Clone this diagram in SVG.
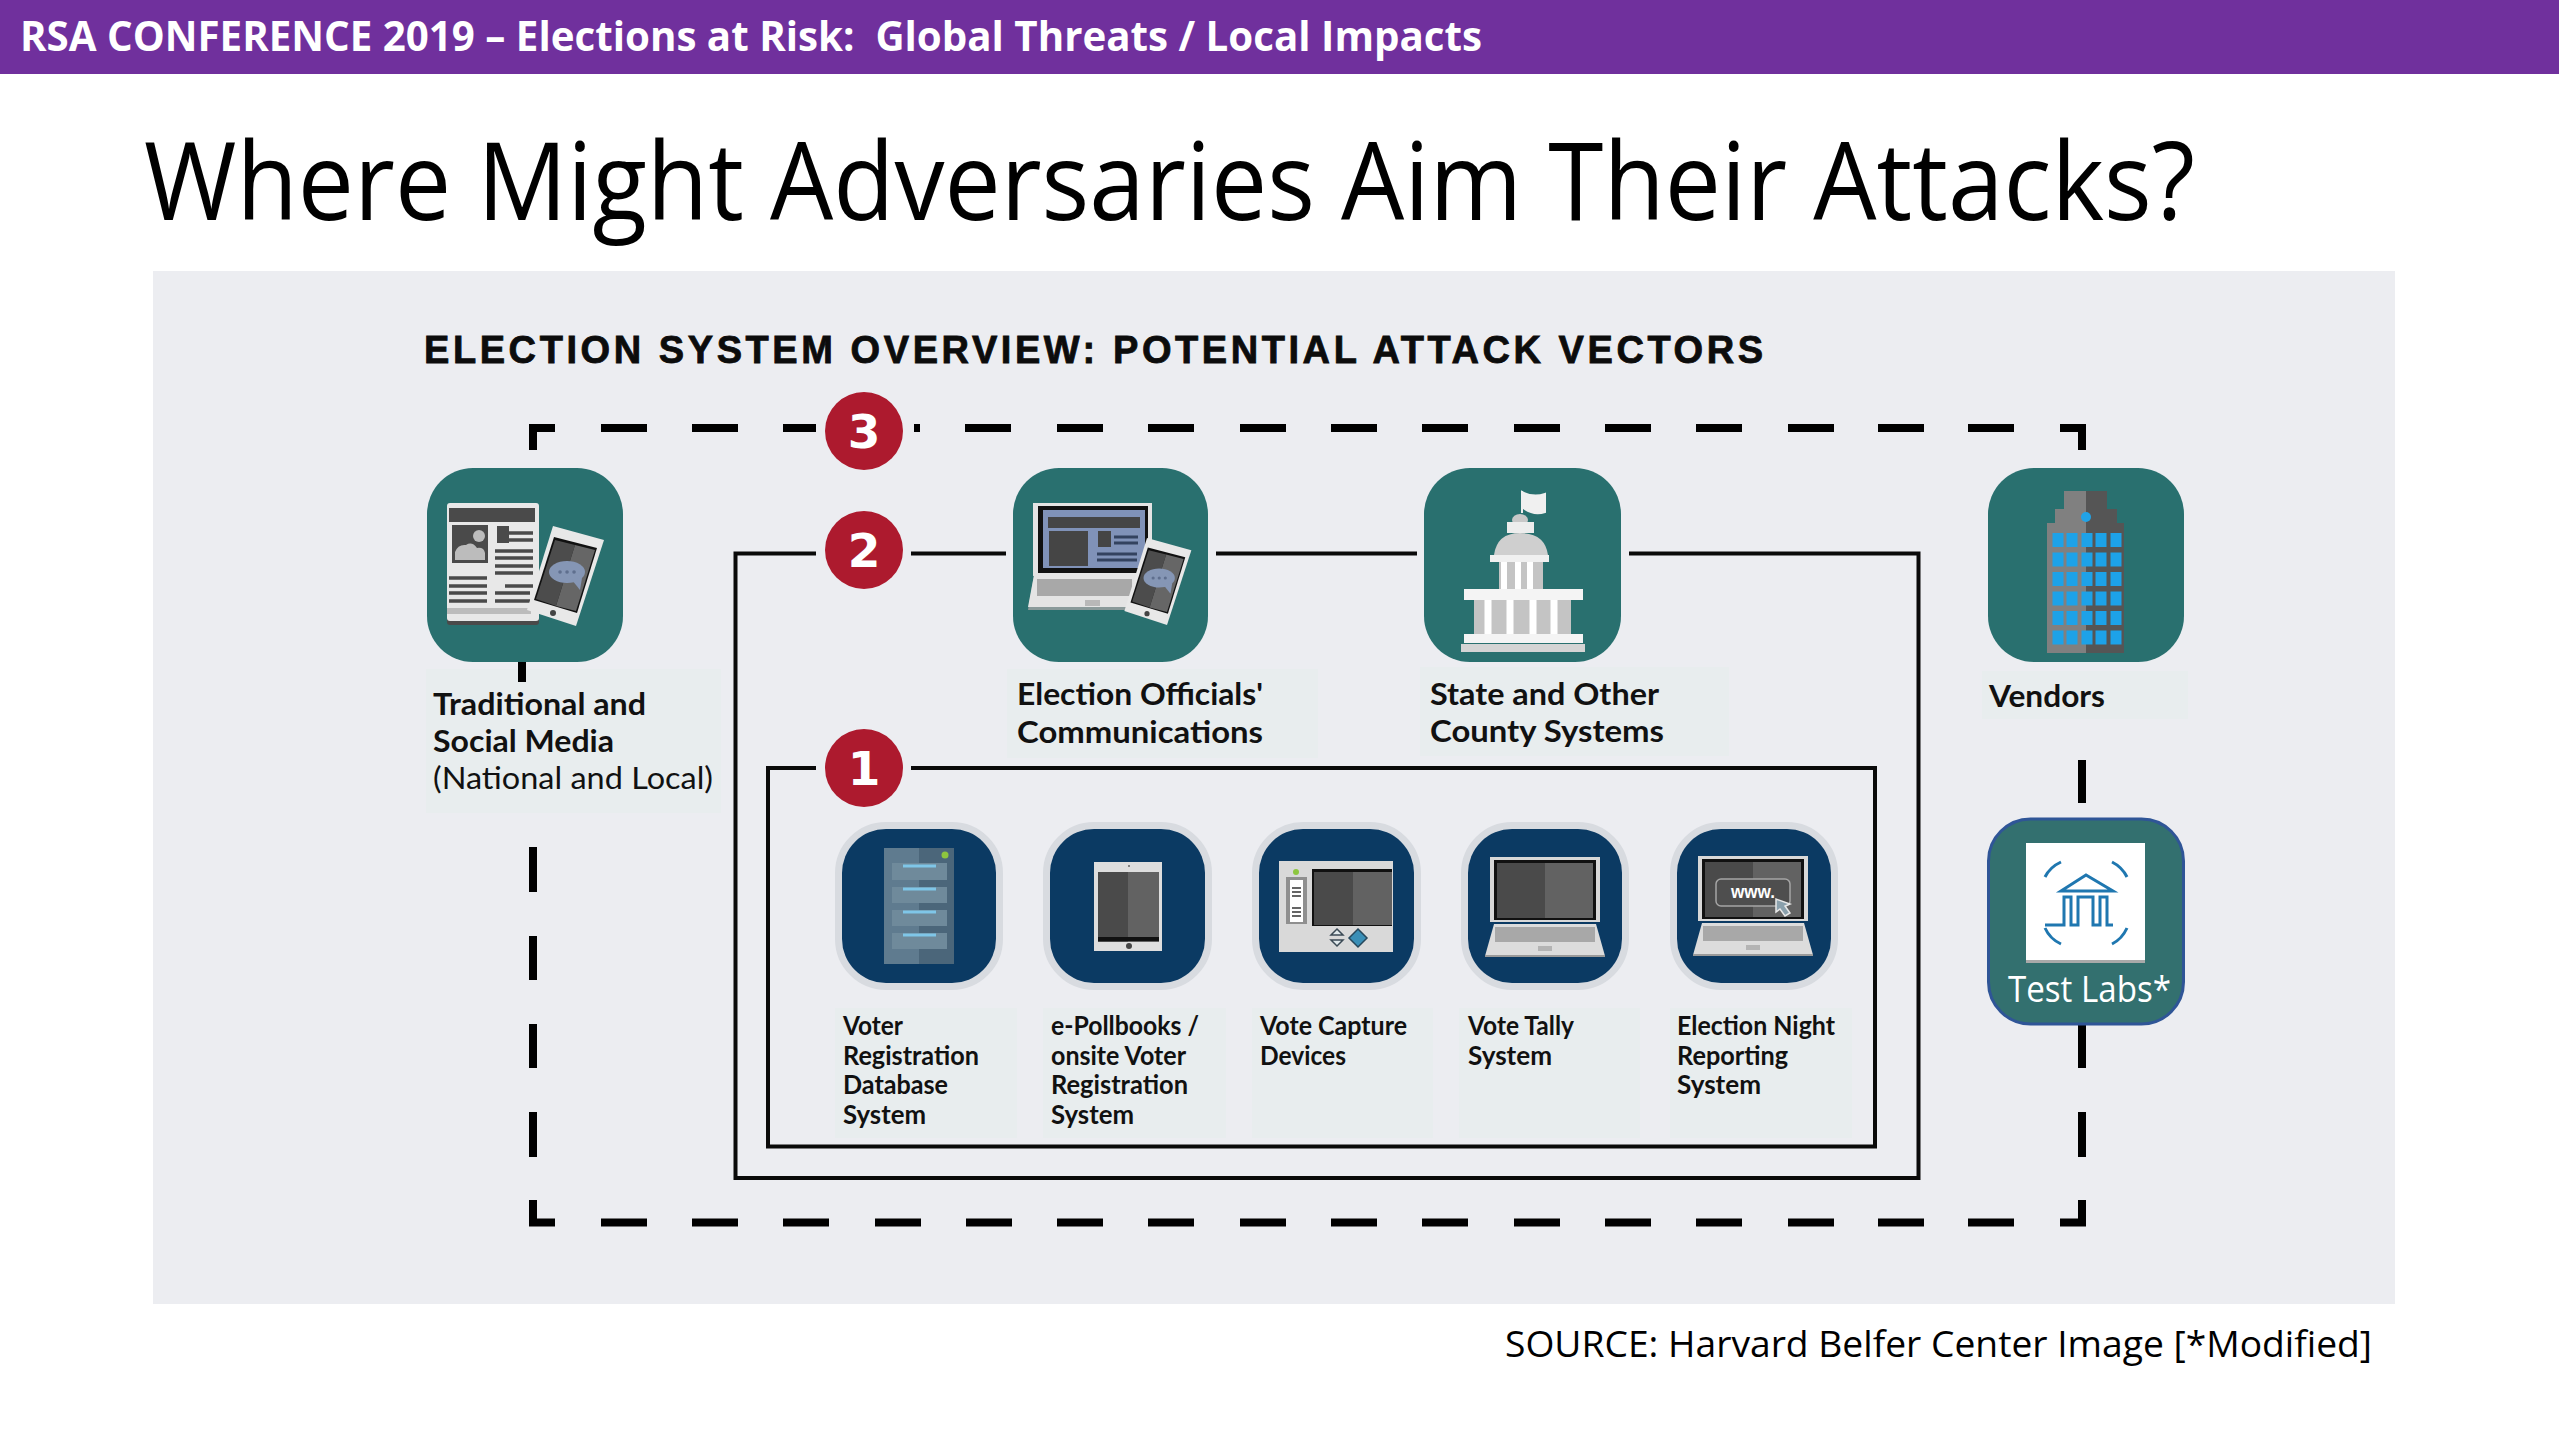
<svg xmlns="http://www.w3.org/2000/svg" width="2559" height="1439" viewBox="0 0 2559 1439">
<style>
text{white-space:pre}
.hdr{font:700 42px "Open Sans",sans-serif;fill:#fff}
.ttl{font:400 108px "Open Sans",sans-serif;fill:#000}
.src{font:400 37px "Open Sans",sans-serif;fill:#000}
.sub{font:800 38px "Liberation Sans",sans-serif;fill:#0c0c0c;stroke:#0c0c0c;stroke-width:.8}
.lg{font:700 31px Lato,sans-serif;fill:#111}
.lr{font:400 31px Lato,sans-serif;fill:#111}
.sm{font:700 26px Lato,sans-serif;fill:#111}
.num{font:700 47px "DejaVu Sans",sans-serif;fill:#fff;text-anchor:middle}
.lbl{fill:#e8edee}
.teal{fill:#29706f}
.navy{fill:#0b3a63;stroke:#d8dbe0;stroke-width:14;paint-order:stroke}
.badge{fill:#ad1a2e}
.solid{fill:none;stroke:#0a0a0a;stroke-width:4}
.dash{fill:none;stroke:#000;stroke-width:8}
.ink{stroke:#4a4a4a;stroke-width:3.5;fill:none}
</style>
<defs>
<g id="phone">
<polygon points="553,526 604,540 576,626 527,610" fill="#e8e8e8"/>
<polygon points="554,537 597,548 577,613 534,600" fill="#111"/>
<polygon points="555,540 575,545 556,606 536,599" fill="#4c4c4c"/>
<polygon points="575,545 595,550 576,611 556,606" fill="#666"/>
<ellipse cx="567" cy="572" rx="18" ry="11" fill="#8596b5"/>
<polygon points="572,580 582,578 580,590" fill="#8596b5"/>
<path d="M560 572h.1M567 572h.1M574 572h.1" stroke="#5f6f8e" stroke-width="3.500" stroke-linecap="round"/>
<circle cx="553" cy="613" r="3" fill="#444"/>
</g>
<g id="lap">
<rect x="-55" y="-33" width="110" height="65" fill="#d8d8d8"/>
<rect x="-51" y="-30" width="102" height="60" fill="#111"/>
<rect x="-48" y="-27" width="48" height="55" fill="#4a4a4a"/>
<rect x="0" y="-27" width="48" height="55" fill="#626262"/>
<polygon points="-51,34 51,34 60,66 -60,66" fill="#dcdcdc"/>
<rect x="-50" y="37" width="100" height="15" fill="#a8a8a8"/>
<rect x="-7" y="56" width="14" height="5" fill="#b4b4b4"/>
<rect x="-60" y="65" width="120" height="2" fill="#9a9a9a"/>
</g>
</defs>
<rect width="2559" height="1439" fill="#fff"/>
<rect width="2559" height="74" fill="#70309d"/>
<text class="hdr" x="20" y="51" textLength="1462" lengthAdjust="spacingAndGlyphs">RSA CONFERENCE 2019 – Elections at Risk:  Global Threats / Local Impacts</text>
<text class="ttl" x="144" y="220" textLength="2051" lengthAdjust="spacingAndGlyphs">Where Might Adversaries Aim Their Attacks?</text>
<rect x="153" y="271" width="2242" height="1033" fill="#ecedf1"/>
<text class="sub" x="424" y="363" textLength="1339" lengthAdjust="spacing">ELECTION SYSTEM OVERVIEW: POTENTIAL ATTACK VECTORS</text>
<text class="src" x="1505" y="1357" textLength="867" lengthAdjust="spacingAndGlyphs">SOURCE: Harvard Belfer Center Image [*Modified]</text>

<g id="media-label-panel"><rect class="lbl" x="426" y="669" width="295" height="144"/></g>

<g id="connectors">
<path class="dash" d="M533 450V428H555M601 428h46M692 428h46M783 428h33M914 428h6M965 428h46M1057 428h46M1148 428h46M1240 428h46M1331 428h46M1422 428h46M1514 428h46M1605 428h46M1696 428h46M1788 428h46M1878 428h46M1968 428h46M2060 428H2082V450"/>
<path class="dash" d="M522 662V682M533 847V892M533 936V980M533 1024V1068M533 1112V1157M533 1200V1222.500H555M601 1222.500h46M692 1222.500h46M783 1222.500h46M875 1222.500h46M966 1222.500h46M1057 1222.500h46M1148 1222.500h46M1240 1222.500h46M1331 1222.500h46M1422 1222.500h46M1514 1222.500h46M1605 1222.500h46M1696 1222.500h46M1788 1222.500h46M1878 1222.500h46M1968 1222.500h46M2060 1222.500H2082V1200M2082 1157V1112M2082 1068V1025M2082 803V760"/>
<path class="solid" d="M816 553.500H735.500V1178H1918.500V553.500H1629M1417 553.500H1216M1006 553.500H911"/>
<path class="solid" d="M816 768H768V1146.500H1875V768H911"/>
</g>

<g id="badge-3"><circle class="badge" cx="864" cy="431" r="39"/><text class="num" x="864" y="448">3</text></g>
<g id="badge-2"><circle class="badge" cx="864" cy="550" r="39"/><text class="num" x="864" y="567">2</text></g>
<g id="badge-1"><circle class="badge" cx="864" cy="768" r="39"/><text class="num" x="864" y="785">1</text></g>

<g id="media">
<rect class="teal" x="427" y="468" width="196" height="194" rx="46"/>
<rect x="447" y="505" width="92" height="120" rx="3" fill="#4a4a4a"/>
<rect x="447" y="503" width="92" height="118" rx="3" fill="#e8e8e8"/>
<rect x="449" y="508" width="86" height="14" fill="#4a4a4a"/>
<rect x="452" y="525" width="36" height="38" fill="#4a4a4a"/>
<circle cx="479" cy="536" r="6" fill="#bcbcbc"/>
<path d="M455 560V552Q458 544 466 545Q472 541 477 548Q484 547 485 553V560Z" fill="#bcbcbc"/>
<rect x="497" y="526" width="12" height="17" fill="#4a4a4a"/>
<path class="ink" d="M509 533H533M509 540H533M495 551H533M495 558H533M495 566H533M495 573H533M449 578H487M449 586H487M449 593H487M449 601H487M505 586H533M495 593H530M495 601H530"/>
<rect x="447" y="608" width="84" height="6" fill="#bcbcbc"/>
<use href="#phone"/>
<text class="lg" x="433" y="715" textLength="213" lengthAdjust="spacingAndGlyphs">Traditional and</text>
<text class="lg" x="433" y="752" textLength="181" lengthAdjust="spacingAndGlyphs">Social Media</text>
<text class="lr" x="433" y="789" textLength="280" lengthAdjust="spacingAndGlyphs">(National and Local)</text>
</g>

<g id="officials">
<rect class="lbl" x="1007" y="669" width="311" height="89"/>
<rect class="teal" x="1013" y="468" width="195" height="194" rx="46"/>
<rect x="1033" y="503" width="119" height="73" fill="#e4e4e4"/>
<rect x="1038" y="506" width="110" height="67" fill="#111"/>
<rect x="1043" y="510" width="102" height="58" fill="#8092b8"/>
<rect x="1048" y="517" width="92" height="11" fill="#454545"/>
<rect x="1049" y="531" width="39" height="35" fill="#454545"/>
<rect x="1098" y="531" width="13" height="16" fill="#454545"/>
<path d="M1114 537H1138M1114 543H1138M1097 554H1137M1097 560H1137" stroke="#33425f" stroke-width="3"/>
<polygon points="1034,575 1138,575 1145,610 1028,610" fill="#8a9a9a"/>
<polygon points="1034,575 1138,575 1145,607 1028,607" fill="#e4e4e4"/>
<rect x="1037" y="579" width="95" height="17" fill="#a8a8a8"/>
<rect x="1085" y="600" width="15" height="6" fill="#b8b8b8"/>
<use href="#phone" transform="translate(1147 538) scale(.87) translate(-553 -526)"/>
<text class="lg" x="1017" y="705" textLength="246" lengthAdjust="spacingAndGlyphs">Election Officials'</text>
<text class="lg" x="1017" y="743" textLength="246" lengthAdjust="spacingAndGlyphs">Communications</text>
</g>

<g id="state">
<rect class="lbl" x="1420" y="667" width="309" height="89"/>
<rect class="teal" x="1424" y="468" width="197" height="194" rx="46"/>
<path d="M1522 491V513M1522 492Q1533 498 1545 494V512Q1533 516 1522 507Z" fill="#f0f0f0" stroke="#f0f0f0" stroke-width="2"/>
<ellipse cx="1520" cy="520" rx="8" ry="6" fill="#c8c8c8"/>
<rect x="1507" y="522" width="27" height="11" fill="#ededed"/>
<path d="M1494 555Q1497 533 1520 533Q1545 533 1548 555Z" fill="#cfcfcf"/>
<rect x="1490" y="555" width="59" height="7" fill="#f0f0f0"/>
<rect x="1499" y="562" width="44" height="27" fill="#c4c4c4"/>
<path d="M1504 562v27M1518 562v27M1530 562v27" stroke="#fff" stroke-width="6"/>
<rect x="1464" y="589" width="119" height="11" fill="#f4f4f4"/>
<rect x="1474" y="600" width="97" height="34" fill="#c4c4c4"/>
<path d="M1488 600v34M1510 600v34M1533 600v34M1554 600v34" stroke="#fff" stroke-width="7"/>
<rect x="1464" y="634" width="119" height="9" fill="#f4f4f4"/>
<rect x="1461" y="644" width="124" height="8" fill="#d4d4d4"/>
<text class="lg" x="1430" y="705" textLength="229" lengthAdjust="spacingAndGlyphs">State and Other</text>
<text class="lg" x="1430" y="742" textLength="234" lengthAdjust="spacingAndGlyphs">County Systems</text>
</g>

<g id="vendors">
<rect class="lbl" x="1982" y="671" width="206" height="48"/>
<rect class="teal" x="1988" y="468" width="196" height="194" rx="46"/>
<polygon points="2064,491 2086,491 2086,653 2047,653 2047,523 2055,523 2055,509 2064,509" fill="#808080"/>
<polygon points="2086,491 2107,491 2107,509 2117,509 2117,523 2124,523 2124,653 2086,653" fill="#555"/>
<circle cx="2086" cy="517" r="5" fill="#22a3e6"/>
<path d="M2058 533v113M2072 533v113M2087 533v113M2101 533v113M2116 533v113" stroke="#1da2e8" stroke-width="11" stroke-dasharray="14 5.500"/>
<text class="lg" x="1989" y="707" textLength="116" lengthAdjust="spacingAndGlyphs">Vendors</text>
</g>

<g id="testlabs">
<rect x="1988.500" y="819" width="195" height="205" rx="42" fill="#33706f" stroke="#2f5597" stroke-width="3"/>
<rect x="2026" y="845" width="119" height="118" fill="#a9a9a9"/>
<rect x="2026" y="843" width="119" height="117" fill="#fff"/>
<g fill="none" stroke="#1f77b0" stroke-width="3">
<path d="M2061 891L2086 875L2113 891ZM2045 925H2064V897H2071V925H2078V897H2093V925H2100V897H2107V925H2113"/>
<path d="M2045 877Q2050 867 2061 862M2112 862Q2122 867 2127 877M2045 928Q2050 939 2061 944M2112 944Q2122 939 2127 928"/>
</g>
<text x="2008" y="1002" font-family="Open Sans, sans-serif" font-size="36" fill="#fff" textLength="163" lengthAdjust="spacingAndGlyphs">Test Labs*</text>
</g>

<g id="voter-db">
<rect class="lbl" x="835" y="1008" width="182" height="130"/>
<rect class="navy" x="842" y="829" width="154" height="154" rx="44"/>
<rect x="884" y="848" width="35" height="116" fill="#5f7b8f"/>
<rect x="919" y="848" width="35" height="116" fill="#4b667a"/>
<circle cx="945" cy="855" r="3.500" fill="#8dc63f"/>
<g fill="#6f8a9b"><rect x="892" y="863" width="55" height="17"/><rect x="892" y="887" width="55" height="16"/><rect x="892" y="910" width="55" height="16"/><rect x="892" y="933" width="55" height="16"/></g>
<path d="M903 866H936M903 889H936M903 912H936M903 935H936" stroke="#7fc6e8" stroke-width="3"/>
<g class="sm"><text x="843" y="1035" textLength="60" lengthAdjust="spacingAndGlyphs">Voter</text><text x="843" y="1065" textLength="136" lengthAdjust="spacingAndGlyphs">Registration</text><text x="843" y="1094" textLength="105" lengthAdjust="spacingAndGlyphs">Database</text><text x="843" y="1124" textLength="83" lengthAdjust="spacingAndGlyphs">System</text></g>
</g>

<g id="epollbooks">
<rect class="lbl" x="1043" y="1008" width="183" height="130"/>
<rect class="navy" x="1050" y="829" width="155" height="154" rx="44"/>
<rect x="1094" y="862" width="68" height="89" fill="#dedede"/>
<rect x="1098" y="872" width="30" height="70" fill="#4a4a4a"/>
<rect x="1128" y="872" width="31" height="70" fill="#626262"/>
<rect x="1098" y="937" width="61" height="4" fill="#111"/>
<circle cx="1129" cy="946" r="3" fill="#444"/>
<circle cx="1129" cy="866" r="1" fill="#666"/>
<g class="sm"><text x="1051" y="1035" textLength="148" lengthAdjust="spacingAndGlyphs">e-Pollbooks /</text><text x="1051" y="1065" textLength="135" lengthAdjust="spacingAndGlyphs">onsite Voter</text><text x="1051" y="1094" textLength="137" lengthAdjust="spacingAndGlyphs">Registration</text><text x="1051" y="1124" textLength="83" lengthAdjust="spacingAndGlyphs">System</text></g>
</g>

<g id="capture">
<rect class="lbl" x="1252" y="1008" width="181" height="130"/>
<rect class="navy" x="1259" y="829" width="155" height="154" rx="44"/>
<rect x="1279" y="861" width="114" height="91" fill="#d9d9d9"/>
<rect x="1312" y="869" width="80" height="57" fill="#111"/>
<rect x="1314" y="872" width="39" height="53" fill="#4a4a4a"/>
<rect x="1353" y="872" width="39" height="53" fill="#626262"/>
<rect x="1286" y="877" width="21" height="47" fill="#8f8f8f"/>
<rect x="1290" y="880" width="13" height="42" fill="#fff"/>
<path d="M1292 888H1301M1292 892H1301M1292 896H1301M1292 908H1301M1292 912H1301M1292 916H1301" stroke="#333" stroke-width="1.500"/>
<circle cx="1296" cy="872" r="3" fill="#8dc63f"/>
<path d="M1337 929L1343 935H1331ZM1337 946L1343 940H1331Z" fill="#dfe7ea" stroke="#3b4a55" stroke-width="1.500"/>
<path d="M1358 929L1367 938L1358 947L1349 938Z" fill="#3a8fb7" stroke="#27485c" stroke-width="1.500"/>
<g class="sm"><text x="1260" y="1035" textLength="147" lengthAdjust="spacingAndGlyphs">Vote Capture</text><text x="1260" y="1065" textLength="86" lengthAdjust="spacingAndGlyphs">Devices</text></g>
</g>

<g id="tally">
<rect class="lbl" x="1459" y="1008" width="181" height="130"/>
<rect class="navy" x="1468" y="829" width="154" height="154" rx="44"/>
<use href="#lap" transform="translate(1545 890)"/>
<g class="sm"><text x="1468" y="1035" textLength="106" lengthAdjust="spacingAndGlyphs">Vote Tally</text><text x="1468" y="1065" textLength="84" lengthAdjust="spacingAndGlyphs">System</text></g>
</g>

<g id="reporting">
<rect class="lbl" x="1670" y="1008" width="182" height="130"/>
<rect class="navy" x="1677" y="829" width="154" height="154" rx="44"/>
<use href="#lap" transform="translate(1753 889)"/>
<rect x="1716" y="879" width="74" height="27" rx="5" fill="#4e4e4e" stroke="#a5a5a5" stroke-width="1.500"/>
<text x="1731" y="898" font-family="Liberation Sans, sans-serif" font-weight="700" font-size="19" fill="#fff" textLength="44" lengthAdjust="spacingAndGlyphs">www.</text>
<polygon points="1776,899 1776,912 1780,909 1785,916 1790,913 1785,906 1790,904" fill="#8aa0ac" stroke="#e8e8e8" stroke-width="1.500"/>
<g class="sm"><text x="1677" y="1035" textLength="158" lengthAdjust="spacingAndGlyphs">Election Night</text><text x="1677" y="1065" textLength="111" lengthAdjust="spacingAndGlyphs">Reporting</text><text x="1677" y="1094" textLength="84" lengthAdjust="spacingAndGlyphs">System</text></g>
</g>
</svg>
